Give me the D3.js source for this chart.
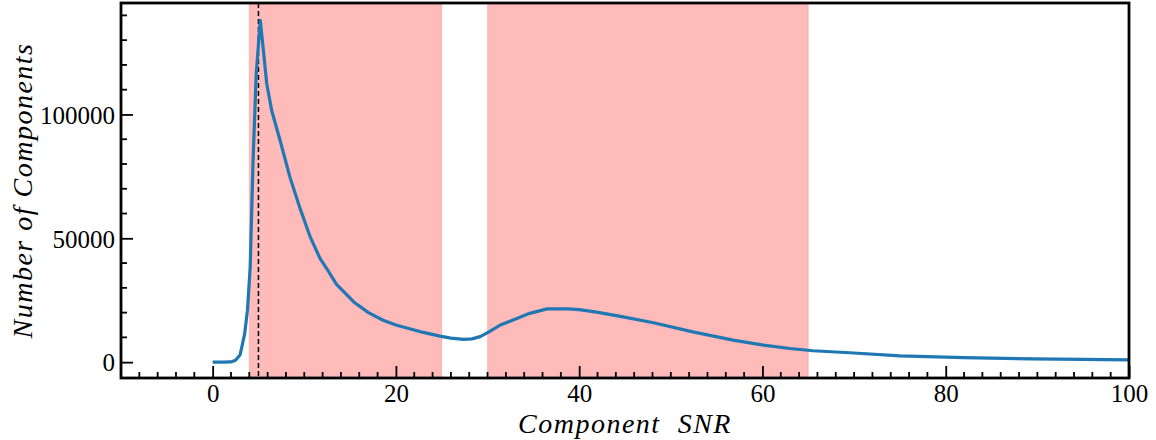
<!DOCTYPE html>
<html><head><meta charset="utf-8">
<script src="https://cdn.jsdelivr.net/npm/d3@7"></script>
<style>body{margin:0;background:#fff}svg{display:block}</style>
</head><body>
<svg id="c" width="1156" height="440"></svg>
<script>
const snr = [0,1,2,2.5,3,3.5,3.8,4.1,4.4,4.75,5.2,5.55,5.9,6.45,7.4,8.45,9.5,10.6,11.7,12.5,13.5,15.4,17,18.6,20,21.5,23,24.8,26,27.4,28.3,29.2,30.3,31.4,32.8,34.6,36.5,38.8,40,41.9,44.8,48.1,52.4,56.8,60.1,63,65.5,69.5,75,82,89.5,95,100];
const counts = [0,0,100,800,3000,11500,21000,38500,80000,116000,138000,125500,112500,101500,89000,74500,62500,51000,42000,37500,31500,24300,20000,16900,15000,13500,12000,10500,9700,9200,9400,10300,12500,15000,17000,19700,21500,21500,21200,20200,18300,15900,12200,8900,6900,5500,4600,3800,2500,1800,1350,1100,950];
const spans = [[4,25],[30,65]];
const peakLine = 5;
const xTicks = [0,20,40,60,80,100];
const yTicks = [0,50000,100000];
const xLabel = "Component  SNR";
const yLabel = "Number of Components";

const L=121, R=1129, T=3, B=378;
const svg = d3.select("#c");
const x = d3.scaleLinear().domain([-10,100]).range([L,R]);
const y = d3.scaleLinear().domain([-6400,145000]).range([B,T]);
const font = "'Liberation Serif','DejaVu Serif',serif";

svg.append("g").selectAll("rect").data(spans).join("rect")
  .attr("x",d=>x(d[0])).attr("width",d=>x(d[1])-x(d[0]))
  .attr("y",T).attr("height",B-T)
  .attr("fill","rgb(255,0,0)").attr("fill-opacity",0.27)
  .attr("stroke","rgb(255,0,0)").attr("stroke-opacity",0.15).attr("stroke-width",1);

svg.append("line").attr("x1",x(peakLine)).attr("x2",x(peakLine)).attr("y1",T).attr("y2",B)
  .attr("stroke","#000").attr("stroke-width",1.5).attr("stroke-dasharray","5,3");

const pts = snr.map((s,i)=>[s,counts[i]]);
svg.append("path").datum(pts)
  .attr("d", d3.line().x(d=>x(d[0])).y(d=>y(d[1])))
  .attr("fill","none").attr("stroke","#1f77b4").attr("stroke-width",3.2).attr("stroke-linejoin","round");

// axes
const xMinor = d3.range(-8,101,2).filter(v=>!xTicks.includes(v));
const yMinor = d3.range(0,145000,10000).filter(v=>!yTicks.includes(v));
const gx = svg.append("g").attr("transform",`translate(0,${B})`);
gx.call(d3.axisBottom(x).tickValues(xTicks).tickSizeInner(-12).tickSizeOuter(0).tickPadding(6).tickFormat(d3.format("d")));
gx.select(".domain").remove();
gx.selectAll(".tick line").attr("stroke-width",1.8);
gx.selectAll("text").attr("font-family",font).attr("font-size",25).attr("fill","#000").attr("dy","0.71em");
gx.selectAll(".minor").data(xMinor).join("line").attr("class","minor")
  .attr("x1",d=>x(d)).attr("x2",d=>x(d)).attr("y1",0).attr("y2",-6).attr("stroke","#000").attr("stroke-width",1.8);

const gy = svg.append("g").attr("transform",`translate(${L},0)`);
gy.call(d3.axisLeft(y).tickValues(yTicks).tickSizeInner(-12).tickSizeOuter(0).tickPadding(6).tickFormat(d3.format("d")));
gy.select(".domain").remove();
gy.selectAll(".tick line").attr("stroke-width",1.8);
gy.selectAll("text").attr("font-family",font).attr("font-size",25).attr("fill","#000").attr("dy","0.35em");
gy.selectAll(".minor").data(yMinor).join("line").attr("class","minor")
  .attr("x1",0).attr("x2",6).attr("y1",d=>y(d)).attr("y2",d=>y(d)).attr("stroke","#000").attr("stroke-width",1.8);

svg.append("rect").attr("x",L).attr("y",T).attr("width",R-L).attr("height",B-T)
  .attr("fill","none").attr("stroke","#000").attr("stroke-width",2.8);

svg.append("text").attr("x",(L+R)/2).attr("y",433).attr("text-anchor","middle")
  .attr("font-family",font).attr("font-style","italic").attr("font-size",28).attr("xml:space","preserve")
  .attr("letter-spacing","1.5px").text(xLabel);
svg.append("text").attr("transform",`translate(32,${(T+B)/2}) rotate(-90)`).attr("text-anchor","middle")
  .attr("font-family",font).attr("font-style","italic").attr("font-size",28).attr("letter-spacing","1.5px")
  .text(yLabel);
</script>
</body></html>
